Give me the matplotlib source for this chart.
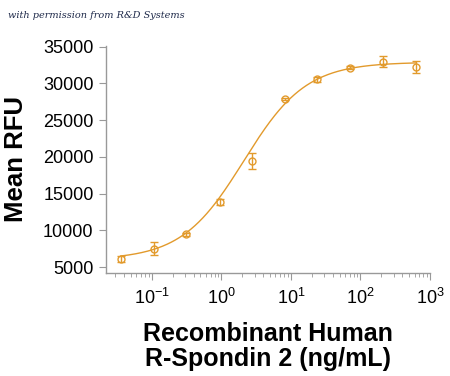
import matplotlib
matplotlib.use("Agg")
import matplotlib.pyplot as plt
import numpy as np

plt.rcParams["font.family"] = "Liberation Sans"
plt.rcParams["mathtext.fontset"] = "custom"
plt.rcParams["mathtext.rm"] = "Liberation Sans"
plt.rcParams["mathtext.it"] = "Liberation Sans:italic"
plt.rcParams["mathtext.bf"] = "Liberation Sans:bold"

# concentrations (ng/mL) and mean RFU with error
conc = [0.036, 0.106, 0.313, 0.946, 2.73, 8.14, 24.1, 71, 209, 625]
rfu = [6130, 7490, 9440, 13880, 19450, 27880, 30560, 32150, 32960, 32190]
err = [400, 900, 250, 400, 1050, 200, 350, 200, 780, 830]

# 4PL fit parameters for the curve
bottom, top, ec50, hill = 6000, 32900, 2.1, 0.97

color = "#E29A2C"

fig = plt.figure(figsize=(4.5, 3.76), dpi=100)
ax = fig.add_axes([0.2356, 0.274, 0.72, 0.6037])

xs = np.logspace(np.log10(conc[0]), np.log10(conc[-1]), 300)
ys = bottom + (top - bottom) / (1 + (ec50 / xs) ** hill)
ax.plot(xs, ys, color=color, lw=1.0)

ax.errorbar(conc, rfu, yerr=err, fmt="o", mfc="none", mec=color, ecolor=color,
            ms=5, mew=1.0, elinewidth=1.0, capsize=3, capthick=1.0)

ax.set_xscale("log")
ax.set_xlim(0.022, 1000)
ax.set_ylim(4200, 35100)
ax.set_yticks([5000, 10000, 15000, 20000, 25000, 30000, 35000])

for s in ["top", "right"]:
    ax.spines[s].set_visible(False)
for s in ["left", "bottom"]:
    ax.spines[s].set_color("#999999")
    ax.spines[s].set_linewidth(1.0)

ax.tick_params(axis="both", which="major", color="#999999", length=5, labelsize=13, pad=4)
ax.tick_params(axis="x", which="minor", color="#999999", length=3)
ax.tick_params(axis="x", which="major", pad=6)

ax.set_ylabel("Mean RFU", fontsize=18.5, fontweight="bold", labelpad=11)
ax.set_xlabel("Recombinant Human\nR-Spondin 2 (ng/mL)", fontsize=18,
              fontweight="bold", linespacing=1.05, labelpad=10)

fig.text(0.018, 0.952, "with permission from R&D Systems", fontsize=7,
         family="DejaVu Serif", style="italic", color="#1f2a4a")

fig.savefig("out.png", dpi=100)
